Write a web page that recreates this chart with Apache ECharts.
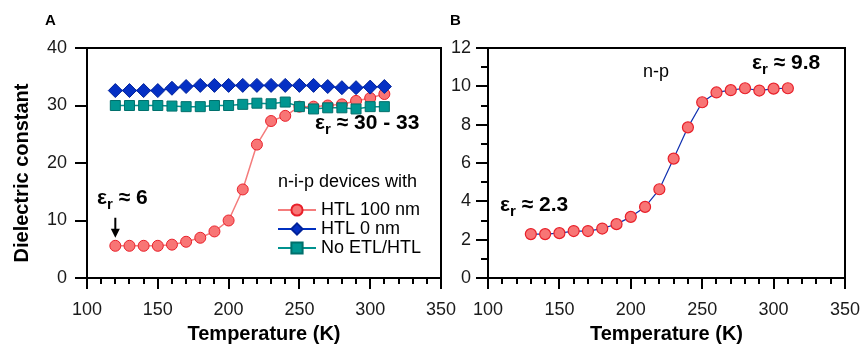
<!DOCTYPE html>
<html><head><meta charset="utf-8">
<script src="https://cdn.jsdelivr.net/npm/echarts@6/dist/echarts.min.js"></script>
<style>html,body{margin:0;padding:0;background:#fff}#c{width:864px;height:344px}</style>
</head><body><div id="c"></div>
<script>
// ---- data ----
const tempA = [120,130,140,150,160,170,180,190,200,210,220,230,240,250,260,270,280,290,300,310];
const htl100 = [5.6,5.6,5.6,5.6,5.8,6.3,7.0,8.1,10.0,15.4,23.2,27.3,28.2,29.8,29.8,30.0,30.2,30.8,31.3,32.0];
const htl0   = [32.6,32.6,32.6,32.6,33.0,33.3,33.5,33.5,33.5,33.5,33.5,33.5,33.5,33.5,33.5,33.3,33.1,33.1,33.2,33.3];
const noEtl  = [30.0,30.0,30.0,30.0,29.9,29.8,29.8,30.0,30.0,30.2,30.4,30.3,30.6,29.8,29.4,29.6,29.6,29.4,29.8,29.8];
const tempB = [130,140,150,160,170,180,190,200,210,220,230,240,250,260,270,280,290,300,310];
const np    = [2.29,2.29,2.34,2.45,2.45,2.58,2.81,3.19,3.71,4.63,6.23,7.86,9.17,9.68,9.8,9.9,9.78,9.88,9.9];
const xTicks  = [100,150,200,250,300,350];
const yTicksA = [0,10,20,30,40];
const yTicksB = [0,2,4,6,8,10,12];
const xMinorSplit = 5, yMinorSplitB = 2;
const seriesNames = ['HTL 100 nm','HTL 0 nm','No ETL/HTL'];

const FONT = 'Liberation Sans, Arial, sans-serif';
const zip = (xs, ys) => xs.map((x, i) => [x, ys[i]]);

function xAxisCfg(gi){
  return {
    type:'value', gridIndex:gi, min:xTicks[0], max:xTicks[xTicks.length-1], interval:xTicks[1]-xTicks[0],
    name:'Temperature (K)', nameLocation:'middle', nameGap:46,
    nameTextStyle:{fontFamily:FONT, fontSize:20, fontWeight:'bold', color:'#000'},
    axisLine:{show:true, lineStyle:{color:'#000', width:2}},
    axisTick:{show:false}, minorTick:{show:false},
    axisLabel:{fontFamily:FONT, fontSize:18, color:'#1a1a1a', margin:23},
    splitLine:{show:false}
  };
}
function yAxisCfg(gi, ticks){
  return {
    type:'value', gridIndex:gi, min:ticks[0], max:ticks[ticks.length-1], interval:ticks[1]-ticks[0],
    axisLine:{show:true, lineStyle:{color:'#000', width:2}},
    axisTick:{show:false}, minorTick:{show:false},
    axisLabel:{fontFamily:FONT, fontSize:18, color:'#1a1a1a', margin:gi===0?20:17},
    splitLine:{show:false}
  };
}

function epsText(rest){
  return {
    text:'{e|ε}{s|r}{e| ≈ ' + rest + '}',
    rich:{
      e:{fontFamily:FONT, fontSize:21, fontWeight:'bold', fill:'#000', lineHeight:24, verticalAlign:'top'},
      s:{fontFamily:FONT, fontSize:15, fontWeight:'bold', fill:'#000', lineHeight:24, padding:[9,0,0,0], verticalAlign:'top'}
    }
  };
}

const arrowPath = 'path://M3.5,0 L5.5,0 L5.5,11 L9,11 L4.5,20 L0,11 L3.5,11 Z';

const chart = echarts.init(document.getElementById('c'));
chart.setOption({
  animation:false,
  grid:[
    {left:87, top:48, width:354, height:230, show:true, borderColor:'#000', borderWidth:2, outerBoundsMode:'none', containLabel:false},
    {left:488, top:48, width:357, height:230, show:true, borderColor:'#000', borderWidth:2, outerBoundsMode:'none', containLabel:false}
  ],
  xAxis:[xAxisCfg(0), xAxisCfg(1)],
  yAxis:[yAxisCfg(0, yTicksA), yAxisCfg(1, yTicksB)],
  legend:{
    data:seriesNames, orient:'vertical', left:272, top:196, itemGap:1,
    itemWidth:38, itemHeight:14,
    textStyle:{fontFamily:FONT, fontSize:18, color:'#000'},
    selectedMode:false
  },
  series:[
    {name:seriesNames[0], type:'line', xAxisIndex:0, yAxisIndex:0, data:zip(tempA, htl100),
     symbol:'circle', symbolSize:11,
     lineStyle:{color:'#f47c7c', width:1.5},
     itemStyle:{color:'#f87575', borderColor:'#e8202a', borderWidth:1}, z:3,
     markPoint:{
       silent:true, animation:false,
       data:[{coord:[tempA[0], htl100[0]], symbol:arrowPath, symbolSize:[9,20], symbolOffset:[0,-18],
              itemStyle:{color:'#000', borderWidth:0}, label:{show:false}}]
     }},
    {name:seriesNames[1], type:'line', xAxisIndex:0, yAxisIndex:0, data:zip(tempA, htl0),
     symbol:'diamond', symbolSize:[14,14],
     lineStyle:{color:'#0030c0', width:1.5},
     itemStyle:{color:'#0530c4', borderColor:'#00229a', borderWidth:1}, z:3},
    {name:seriesNames[2], type:'line', xAxisIndex:0, yAxisIndex:0, data:zip(tempA, noEtl),
     symbol:'rect', symbolSize:10,
     lineStyle:{color:'#00928e', width:1.5},
     itemStyle:{color:'#009691', borderColor:'#00706c', borderWidth:1}, z:3},
    {name:'n-p', type:'line', xAxisIndex:1, yAxisIndex:1, data:zip(tempB, np),
     symbol:'circle', symbolSize:11,
     lineStyle:{color:'#1030b0', width:1.2},
     itemStyle:{color:'#f87575', borderColor:'#e8202a', borderWidth:1.2}, z:3}
  ]
});

// axis ticks positioned through the library's own scales, drawn on a top layer
const ticks = [];
function tickLine(x1, y1, x2, y2){
  return {type:'line', silent:true, zlevel:1, z:100,
          shape:{x1:x1, y1:y1, x2:x2, y2:y2}, style:{stroke:'#000', lineWidth:2, fill:null}};
}
function addXTicks(gi, yTicks){
  const y0 = Math.round(chart.convertToPixel({yAxisIndex:gi}, yTicks[0]));
  const step = (xTicks[1]-xTicks[0]) / xMinorSplit;
  const n = Math.round((xTicks[xTicks.length-1]-xTicks[0]) / step);
  for (let i = 0; i <= n; i++){
    const v = xTicks[0] + i*step;
    const px = Math.round(chart.convertToPixel({xAxisIndex:gi}, v));
    const len = (i % xMinorSplit === 0) ? 11 : 6;
    ticks.push(tickLine(px, y0, px, y0+len));
  }
}
function addYTicks(gi, yTicks, minorSplit){
  const x0 = Math.round(chart.convertToPixel({xAxisIndex:gi}, xTicks[0]));
  const step = (yTicks[1]-yTicks[0]) / minorSplit;
  const n = Math.round((yTicks[yTicks.length-1]-yTicks[0]) / step);
  for (let i = 0; i <= n; i++){
    const v = yTicks[0] + i*step;
    const py = Math.round(chart.convertToPixel({yAxisIndex:gi}, v));
    const len = (i % minorSplit === 0) ? 12 : 7;
    ticks.push(tickLine(x0-len, py, x0, py));
  }
}
addXTicks(0, yTicksA); addXTicks(1, yTicksB);
addYTicks(0, yTicksA, 1); addYTicks(1, yTicksB, yMinorSplitB);

const texts = [
  {type:'text', left:45, top:13, style:{text:'A', fontFamily:FONT, fontSize:15, fontWeight:'bold', fill:'#000'}},
  {type:'text', left:450, top:13, style:{text:'B', fontFamily:FONT, fontSize:15, fontWeight:'bold', fill:'#000'}},
  {type:'text', x:22, y:173, rotation:Math.PI/2,
   style:{text:'Dielectric constant', fontFamily:FONT, fontSize:20, fontWeight:'bold', fill:'#000', align:'center', verticalAlign:'middle'}},
  {type:'text', x:97, y:188, style:epsText('6')},
  {type:'text', x:315, y:113, style:epsText('30 - 33')},
  {type:'text', x:278, y:182, style:{text:'n-i-p devices with', fontFamily:FONT, fontSize:18, fill:'#000', verticalAlign:'middle'}},
  {type:'text', x:643, y:72, style:{text:'n-p', fontFamily:FONT, fontSize:18, fill:'#000', verticalAlign:'middle'}},
  {type:'text', x:500, y:195, style:epsText('2.3')},
  {type:'text', x:752, y:53, style:epsText('9.8')}
];
chart.setOption({graphic: texts.concat(ticks)});
</script>
</body></html>
